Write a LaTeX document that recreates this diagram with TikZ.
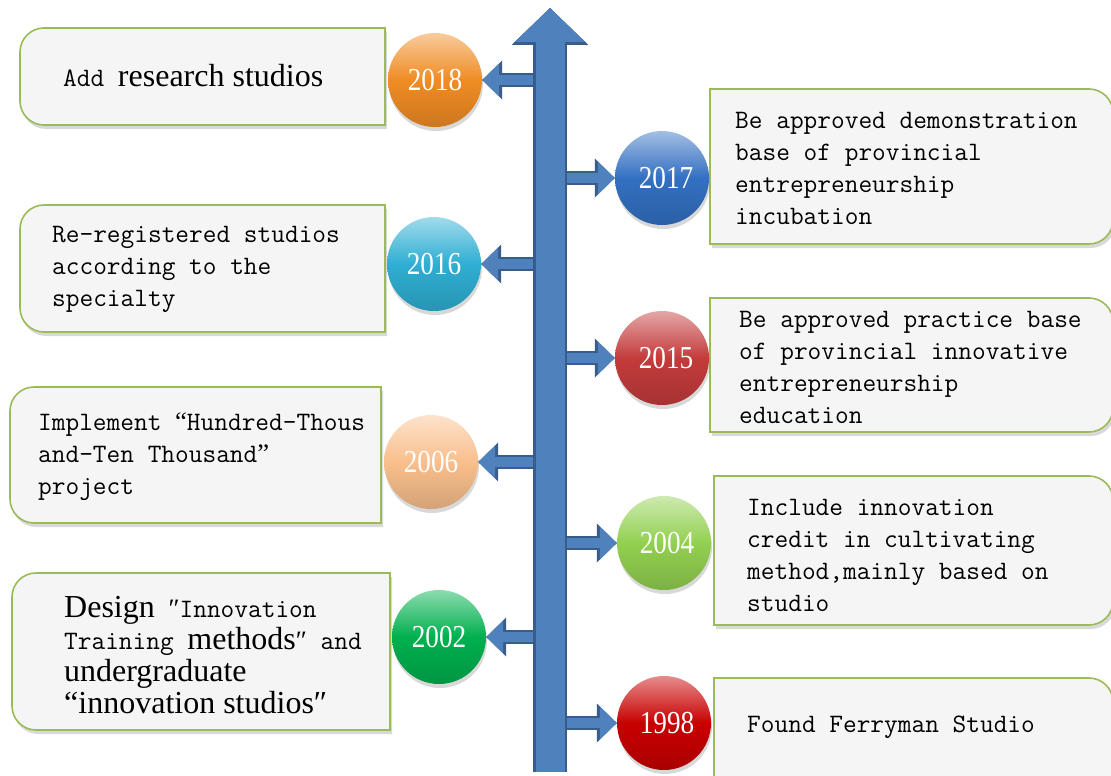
\documentclass[tikz,border=0pt]{standalone}
\usepackage{fontspec}
\setmainfont{Liberation Serif}
\newfontfamily\stagefont{Latin Modern Mono}
\newfontfamily\yearfont[FakeStretch=0.85]{Liberation Serif}
\usetikzlibrary{arrows.meta,shadows}
\definecolor{cardfill}{HTML}{F5F5F5}
\definecolor{cardline}{HTML}{9BBB59}
\definecolor{spinefill}{HTML}{4F81BD}
\definecolor{spineline}{HTML}{385D8A}
\definecolor{yOrange}{HTML}{F08C24}
\definecolor{yCyan}{HTML}{2FAED3}
\definecolor{yPeach}{HTML}{F9BF8C}
\definecolor{yGreen}{HTML}{00B04E}
\definecolor{yBlue}{HTML}{3370C2}
\definecolor{yRed}{HTML}{C43B3B}
\definecolor{yLime}{HTML}{92D050}
\definecolor{yDark}{HTML}{C80000}
\newcommand\serifpart[1]{{\rmfamily\fontsize{32}{32}\selectfont #1}}
\newcommand\qmark[1]{{\rmfamily #1}}

\begin{document}
\begin{tikzpicture}[x=1pt, y=-1pt, font=\stagefont\fontsize{26.6}{32}\selectfont]
\tikzstyle{card}=[draw=cardline, line width=1.6pt, fill=cardfill, preaction={fill=black, opacity=0.15, transform canvas={xshift=2pt, yshift=-4pt}}]
\tikzstyle{stage}=[inner sep=0pt, anchor=west, align=left]
\tikzstyle{ball}=[circle, minimum size=94pt, inner sep=0pt, text=white, font=\yearfont\fontsize{32}{32}\selectfont, top color=#1!45!white, bottom color=#1!85!black, middle color=#1, drop shadow={shadow xshift=1pt, shadow yshift=-4pt, opacity=0.3}]
\tikzstyle{tick}=[line width=10pt, draw=spinefill, -{Triangle[width=33pt, length=17pt, line width=0pt]}, preaction={draw=spineline, line width=14pt, -{Triangle[width=39pt, length=20pt, line width=0pt]}}]
\tikzstyle{spine}=[line width=29pt, draw=spinefill, -{Triangle[width=70pt, length=34pt, line width=0pt]}, preaction={draw=spineline, line width=34pt, -{Triangle[width=77pt, length=37pt, line width=0pt]}}]
\useasboundingbox[fill=white] (0,0) rectangle (1111,776);

% cards on the left
\draw[card] (385,28) [rounded corners=24pt] -- (20,28) -- (20,125) [sharp corners] -- (385,125) -- cycle;
\draw[card] (385,205) [rounded corners=24pt] -- (20,205) -- (20,332) [sharp corners] -- (385,332) -- cycle;
\draw[card] (381,387) [rounded corners=24pt] -- (10,387) -- (10,523) [sharp corners] -- (381,523) -- cycle;
\draw[card] (390,573) [rounded corners=24pt] -- (12,573) -- (12,730) [sharp corners] -- (390,730) -- cycle;
% cards on the right
\draw[card] (710,89) [rounded corners=24pt] -- (1113,89) -- (1113,244) [sharp corners] -- (710,244) -- cycle;
\draw[card] (710,298) [rounded corners=24pt] -- (1113,298) -- (1113,432) [sharp corners] -- (710,432) -- cycle;
\draw[card] (714,476) [rounded corners=24pt] -- (1113,476) -- (1113,625) [sharp corners] -- (714,625) -- cycle;
\draw[card] (714,678) [rounded corners=24pt] -- (1113,678) -- (1113,800) [sharp corners] -- (714,800) -- cycle;

\node[stage] (t18) at (63,76) {Add \serifpart{research studios}};
\node[stage] (t16) at (52,269) {Re-registered studios\\according to the\\specialty};
\node[stage] (t06) at (38,457) {Implement \qmark{“}Hundred-Thous\\and-Ten Thousand\qmark{”}\\project};
\node[stage] (t02) at (64,655) {\serifpart{Design} \qmark{″}Innovation\\Training \serifpart{methods}\qmark{″} and\\\serifpart{undergraduate}\\\serifpart{“innovation studios″}};
\node[stage] (t17) at (735,168) {Be approved demonstration\\base of provincial\\entrepreneurship\\incubation};
\node[stage] (t15) at (739,367) {Be approved practice base\\of provincial innovative\\entrepreneurship\\education};
\node[stage] (t04) at (747,555) {Include innovation\\credit in cultivating\\method,mainly based on\\studio};
\node[stage] (t98) at (747,727) {Found Ferryman Studio};

\node[ball=yOrange] (c18) at (435,80) {2018};
\node[ball=yCyan] (c16) at (434,264) {2016};
\node[ball=yPeach] (c06) at (431,462) {2006};
\node[ball=yGreen] (c02) at (439,637) {2002};
\node[ball=yBlue] (c17) at (662,178) {\hspace{8pt}2017};
\node[ball=yRed] (c15) at (662,358) {\hspace{8pt}2015};
\node[ball=yLime] (c04) at (664,543) {\hspace{6pt}2004};
\node[ball=yDark] (c98) at (664,723) {\hspace{6pt}1998};

\coordinate (foot) at (550,772);
\coordinate (top) at (550,8);
\draw[tick] (c18 -| top) -- (c18.east);
\draw[tick] (c16 -| top) -- (c16.east);
\draw[tick] (c06 -| top) -- (c06.east);
\draw[tick] (c02 -| top) -- (c02.east);
\draw[tick] (c17 -| top) -- (c17.west);
\draw[tick] (c15 -| top) -- (c15.west);
\draw[tick] (c04 -| top) -- (c04.west);
\draw[tick] (c98 -| top) -- (c98.west);
\draw[spine] (foot) -- (top);
\end{tikzpicture}
\end{document}
